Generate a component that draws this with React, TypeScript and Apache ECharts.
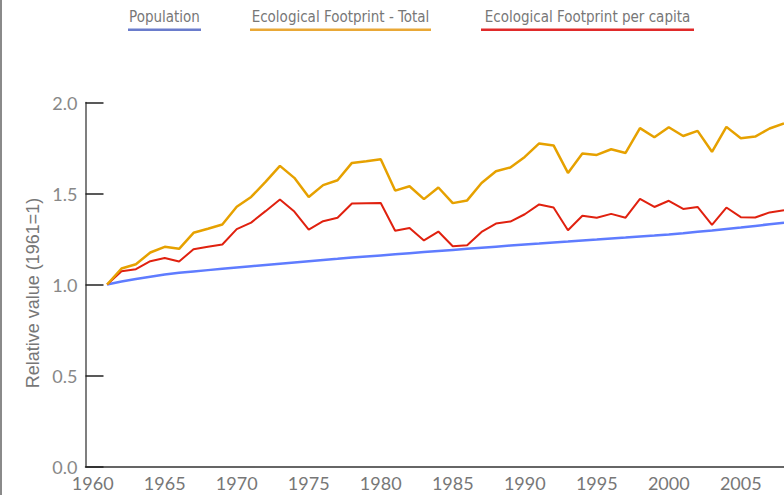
import React, { useEffect, useRef } from "react";
import * as echarts from "echarts";

const years: number[] = [];
for (let y = 1961; y <= 2008; y++) years.push(y);

const population = [
  1.000, 1.016, 1.030, 1.043, 1.055, 1.064, 1.072, 1.079, 1.086, 1.093,
  1.100, 1.107, 1.114, 1.121, 1.128, 1.135, 1.141, 1.148, 1.154, 1.160,
  1.166, 1.172, 1.178, 1.184, 1.190, 1.196, 1.202, 1.208, 1.214, 1.220,
  1.225, 1.231, 1.236, 1.242, 1.247, 1.253, 1.258, 1.264, 1.269, 1.275,
  1.282, 1.290, 1.297, 1.305, 1.313, 1.322, 1.331, 1.340,
];

const footprintTotal = [
  1.000, 1.088, 1.111, 1.176, 1.207, 1.196, 1.284, 1.306, 1.330, 1.427,
  1.481, 1.564, 1.652, 1.586, 1.481, 1.546, 1.573, 1.668, 1.677, 1.688,
  1.516, 1.540, 1.469, 1.533, 1.447, 1.462, 1.558, 1.622, 1.643, 1.701,
  1.775, 1.764, 1.613, 1.720, 1.712, 1.743, 1.723, 1.859, 1.809, 1.864,
  1.816, 1.844, 1.729, 1.866, 1.804, 1.813, 1.857, 1.885,
];

const footprintPerCapita = [
  1.000, 1.073, 1.084, 1.128, 1.146, 1.126, 1.194, 1.207, 1.220, 1.304,
  1.340, 1.403, 1.467, 1.401, 1.302, 1.348, 1.367, 1.445, 1.447, 1.448,
  1.295, 1.311, 1.242, 1.291, 1.210, 1.216, 1.289, 1.335, 1.346, 1.386,
  1.440, 1.423, 1.298, 1.378, 1.367, 1.388, 1.367, 1.470, 1.426, 1.460,
  1.415, 1.426, 1.327, 1.423, 1.370, 1.368, 1.396, 1.408,
];

const xTickLabels = [1960, 1965, 1970, 1975, 1980, 1985, 1990, 1995, 2000, 2005];
const yTickValues = [0, 0.5, 1.0, 1.5, 2.0];

const seriesNames = ["Population", "Ecological Footprint - Total", "Ecological Footprint per capita"];
const seriesColors = ["#5f7cff", "#e6a100", "#e0210f"];
const legendColors = ["#6a7ccc", "#e9a836", "#e02a2a"];

export default function App() {
  const ref = useRef<HTMLDivElement>(null);
  useEffect(() => {
    if (!ref.current) return;
    const chart = echarts.init(ref.current, null, { renderer: "svg" });
    const pair = (vals: number[]) => years.map((y, i) => [y, vals[i]]);
    const legendX = [128, 250, 481];
    const legendW = [73, 181, 213];
    const legendGraphics: any[] = [];
    seriesNames.forEach((n, i) => {
      legendGraphics.push({
        type: "text",
        x: legendX[i] + legendW[i] / 2,
        y: 17,
        style: {
          text: n,
          fill: "#777",
          fontSize: 15,
          fontFamily: "DejaVu Sans Condensed, Liberation Sans Narrow, sans-serif",
          align: "center",
          verticalAlign: "middle",
        },
      });
      legendGraphics.push({
        type: "rect",
        shape: { x: legendX[i], y: 28.5, width: legendW[i], height: 2.5 },
        style: { fill: legendColors[i] },
      });
    });
    chart.setOption({
      animation: false,
      backgroundColor: "#fff",
      grid: { left: 85.5, top: 102.5, height: 364, width: 700.5, containLabel: false },
      xAxis: {
        type: "value",
        min: 1959.5,
        max: 2008,
        axisLine: { show: true, lineStyle: { color: "#333", width: 1.5 } },
        axisTick: { show: false },
        splitLine: { show: false },
        axisLabel: {
          customValues: xTickLabels,
          color: "#777",
          fontSize: 18,
          fontFamily: "Lato, sans-serif",
          margin: 7,
          formatter: (v: number) => String(v),
        },
      },
      yAxis: {
        type: "value",
        min: 0,
        max: 2,
        interval: 0.5,
        axisLine: { show: true, lineStyle: { color: "#555", width: 1.5 } },
        axisTick: { show: true, inside: true, length: 18, lineStyle: { color: "#222", width: 1.5 } },
        splitLine: { show: false },
        axisLabel: {
          customValues: yTickValues,
          color: "#888",
          fontSize: 18,
          fontFamily: "Lato, sans-serif",
          margin: 8,
          formatter: (v: number) => v.toFixed(1),
        },
      },
      graphic: [
        { type: "rect", shape: { x: 0, y: 0, width: 2, height: 495 }, style: { fill: "#8a8a8a" } },
        {
          type: "text",
          x: 33,
          y: 293,
          rotation: Math.PI / 2,
          style: {
            text: "Relative value (1961=1)",
            fill: "#777",
            fontSize: 18,
            fontFamily: "Liberation Sans, Arial, sans-serif",
            align: "center",
            verticalAlign: "middle",
          },
        },
        ...legendGraphics,
      ],
      series: [
        {
          name: seriesNames[0],
          type: "line",
          data: pair(population),
          showSymbol: false,
          lineStyle: { color: seriesColors[0], width: 2.5 },
          itemStyle: { color: seriesColors[0] },
        },
        {
          name: seriesNames[2],
          type: "line",
          data: pair(footprintPerCapita),
          showSymbol: false,
          lineStyle: { color: seriesColors[2], width: 2 },
          itemStyle: { color: seriesColors[2] },
        },
        {
          name: seriesNames[1],
          type: "line",
          data: pair(footprintTotal),
          showSymbol: false,
          lineStyle: { color: seriesColors[1], width: 2.5 },
          itemStyle: { color: seriesColors[1] },
        },
      ],
    });
    return () => chart.dispose();
  }, []);
  return (
    <div
      ref={ref}
      style={{ position: "absolute", left: 0, top: 0, width: 784, height: 495, overflow: "hidden" }}
    />
  );
}
